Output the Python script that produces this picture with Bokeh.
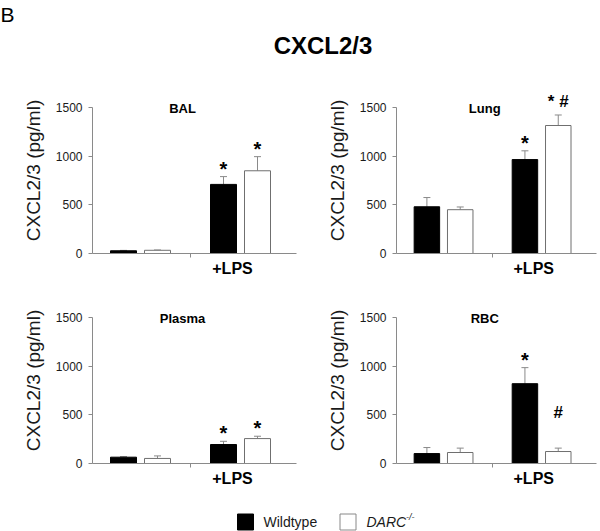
from bokeh.plotting import figure
from bokeh.layouts import column, row
from bokeh.models import (Range1d, FixedTicker, CustomJSTickFormatter, Label,
                          Whisker, TeeHead, ColumnDataSource)
from bokeh.embed import file_html
from bokeh.resources import INLINE
from bokeh.core.properties import value

FONT = "Liberation Sans"

# ---------------- data ----------------
main_title = "CXCL2/3"
panel_letter = "B"
panels = ["BAL", "Lung", "Plasma", "RBC"]
groups = ["", "+LPS"]
y_ticks = [0, 500, 1000, 1500]
y_label = "CXCL2/3 (pg/ml)"
series_names = ["Wildtype", "DARC"]

wt_mean = [[28, 710], [480, 965], [65, 195], [102, 820]]
wt_err = [[4, 80], [95, 90], [6, 33], [62, 165]]
darc_mean = [[33, 850], [450, 1315], [52, 256], [113, 123]]
darc_err = [[3, 145], [28, 108], [26, 24], [45, 35]]

sig_wt = [["", "*"], ["", "*"], ["", "*"], ["", "*"]]
sig_darc = [["", "*"], ["", "* #"], ["", "*"], ["", "#"]]
# RBC "#" is drawn lower, at this value
sig_darc_y = [[None, None], [None, None], [None, None], [None, 520]]

# ---------------- style ----------------
AXIS_GRAY = "#8a8a8a"
BAR_OUTLINE = "#6f6f6f"
TEXT = "#1a1a1a"
TOTAL_W = 600
AXIS_PX = 146            # pixels from 0 to 1500
TOP_PAD = 20             # extra frame pixels above 1500
PX_PER_UNIT = AXIS_PX / 1500.0
Y_TOP = 1500 + TOP_PAD / PX_PER_UNIT


def make_panel(idx, width, border_left, border_right):
    name = panels[idx]
    p = figure(width=width, height=210, x_range=Range1d(0.02, 2.06),
               y_range=Range1d(0, Y_TOP), output_backend="svg",
               toolbar_location=None, min_border_left=border_left,
               min_border_right=border_right, min_border_top=27 - TOP_PAD,
               min_border_bottom=37)
    p.outline_line_color = None
    p.grid.visible = False

    centers = [0.5 + i for i in range(len(groups))]
    x_wt = [c - 0.17 for c in centers]
    x_da = [c + 0.17 for c in centers]

    p.vbar(x=x_wt, top=wt_mean[idx], bottom=0, width=0.26,
           fill_color="black", line_color="black", line_width=1)
    p.vbar(x=x_da, top=darc_mean[idx], bottom=0, width=0.26,
           fill_color="white", line_color=BAR_OUTLINE, line_width=1)

    for xs, means, errs in ((x_wt, wt_mean[idx], wt_err[idx]),
                            (x_da, darc_mean[idx], darc_err[idx])):
        src = ColumnDataSource(dict(x=xs, lower=means,
                                    upper=[m + e for m, e in zip(means, errs)]))
        w = Whisker(source=src, base="x", lower="lower", upper="upper",
                    dimension="height", line_color=AXIS_GRAY, line_width=1,
                    lower_head=None,
                    upper_head=TeeHead(size=7, line_color=AXIS_GRAY, line_width=1))
        p.add_layout(w)

    # significance marks
    gap = 8 / PX_PER_UNIT
    for xs, means, errs, sig, sy in ((x_wt, wt_mean[idx], wt_err[idx], sig_wt[idx], [None, None]),
                                     (x_da, darc_mean[idx], darc_err[idx], sig_darc[idx], sig_darc_y[idx])):
        for j, t in enumerate(sig):
            if not t:
                continue
            has_hash = "#" in t
            if sy[j] is not None:
                yy = sy[j]
            else:
                extra = 5 / PX_PER_UNIT if has_hash else 0
                yy = means[j] + errs[j] + gap + extra
            p.add_layout(Label(x=xs[j], y=yy, text=t, text_align="center",
                               text_baseline="middle", text_font=FONT,
                               text_font_size="17px" if has_hash else "20px",
                               text_font_style="bold", text_color="black"))

    # panel title
    p.add_layout(Label(x=0.92, y=1485, text=name, text_align="center",
                       text_baseline="alphabetic", text_font=FONT,
                       text_font_size="13px", text_font_style="bold",
                       text_color="black"))

    # y axis
    ya = p.yaxis[0]
    ya.ticker = FixedTicker(ticks=y_ticks)
    ya.bounds = (0, 1500)
    ya.axis_label = y_label
    ya.axis_label_text_font = FONT
    ya.axis_label_text_font_size = "19px"
    ya.axis_label_text_font_style = "normal"
    ya.axis_label_text_color = TEXT
    ya.axis_label_standoff = 9
    ya.major_label_text_font = FONT
    ya.major_label_text_font_size = "12px"
    ya.major_label_text_color = TEXT
    ya.major_label_standoff = 6
    ya.axis_line_color = AXIS_GRAY
    ya.major_tick_line_color = AXIS_GRAY
    ya.major_tick_out = 4
    ya.major_tick_in = 0
    ya.minor_tick_line_color = None

    # x axis
    xa = p.xaxis[0]
    xa.ticker = FixedTicker(ticks=[1.42], minor_ticks=[1.0])
    xa.formatter = CustomJSTickFormatter(code="return '%s'" % groups[1])
    xa.major_label_text_font = FONT
    xa.major_label_text_font_size = "16px"
    xa.major_label_text_font_style = "bold"
    xa.major_label_text_color = "black"
    xa.major_label_standoff = 2
    xa.axis_line_color = AXIS_GRAY
    xa.major_tick_line_color = None
    xa.major_tick_out = 0
    xa.major_tick_in = 0
    xa.minor_tick_line_color = AXIS_GRAY
    xa.minor_tick_out = 4
    xa.minor_tick_in = 0
    return p


# header
hdr = figure(width=TOTAL_W, height=80, x_range=Range1d(0, TOTAL_W),
             y_range=Range1d(0, 80), output_backend="svg", toolbar_location=None,
             min_border=0)
hdr.axis.visible = False
hdr.grid.visible = False
hdr.outline_line_color = None
hdr.text(x=[0], y=[78], text=[panel_letter], text_font=value(FONT),
         text_font_size="21px", text_baseline="top", text_align="left",
         text_color="black")
hdr.text(x=[322.5], y=[35], text=[main_title], text_font=value(FONT),
         text_font_size="24px", text_font_style="bold", text_baseline="alphabetic",
         text_align="center", text_color="black")

p1 = make_panel(0, 300, 92, 4)
p2 = make_panel(1, 300, 96, 4)
p3 = make_panel(2, 300, 92, 4)
p4 = make_panel(3, 300, 96, 4)

# legend strip
leg = figure(width=TOTAL_W, height=31, x_range=Range1d(0, TOTAL_W),
             y_range=Range1d(0, 31), output_backend="svg", toolbar_location=None,
             min_border=0)
leg.axis.visible = False
leg.grid.visible = False
leg.outline_line_color = None
leg.rect(x=[245], y=[9.5], width=16, height=16, fill_color="black", line_color="black")
leg.rect(x=[347.5], y=[9.5], width=16, height=16, fill_color="white", line_color="#888888")
leg.text(x=[263], y=[9.5], text=[series_names[0]], text_font=value(FONT),
         text_font_size="14px", text_baseline="middle", text_color=TEXT)
leg.text(x=[366], y=[9.5], text=[series_names[1]], text_font=value(FONT),
         text_font_size="14px", text_font_style="italic", text_baseline="middle",
         text_color=TEXT)
leg.text(x=[405.5], y=[14.5], text=["-/-"], text_font=value(FONT),
         text_font_size="9px", text_font_style="italic", text_baseline="middle",
         text_color=TEXT)

layout = column(hdr, row(p1, p2), row(p3, p4), leg)

open("out.html", "w").write(file_html(layout, INLINE))
